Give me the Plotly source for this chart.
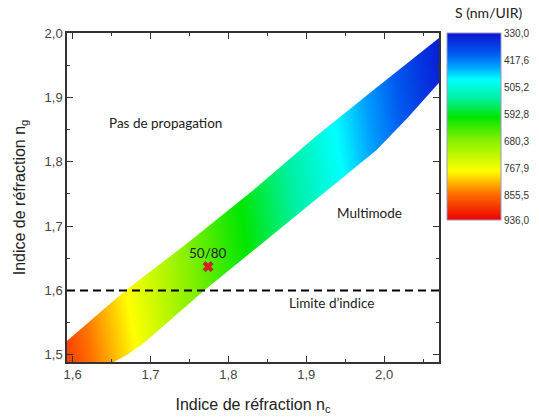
import plotly.graph_objects as go

# ---- data ----
nc_grid = [1.55, 1.60, 1.65, 1.70, 1.75, 1.80, 1.85, 1.90, 1.95, 2.00, 2.05, 2.10]
ng_rows = [1.48, 2.01]
S_bottom = [940, 880, 820, 760, 695, 645, 600, 560, 515, 465, 420, 375]
S_top = [860, 780, 730, 680, 630, 585, 540, 495, 450, 400, 350, 315]

upper_nc = [1.52, 1.593, 1.666, 1.750, 1.833, 1.913, 1.990, 2.071, 2.12, 2.12, 1.52]
upper_ng = [1.45, 1.522, 1.598, 1.676, 1.757, 1.840, 1.915, 1.992, 2.04, 2.10, 2.10]
lower_nc = [1.64, 1.653, 1.670, 1.690, 1.769, 1.840, 1.925, 1.990, 2.030, 2.071, 2.12, 2.12, 1.64]
lower_ng = [1.47, 1.489, 1.500, 1.517, 1.600, 1.670, 1.754, 1.818, 1.868, 1.924, 1.99, 1.40, 1.40]

point_nc = [1.774]
point_ng = [1.637]
point_label = "50/80"
limit_ng = 1.6

cb_vals = [330.0, 417.6, 505.2, 592.8, 680.3, 767.9, 855.5, 936.0]
cb_text = ["330,0", "417,6", "505,2", "592,8", "680,3", "767,9", "855,5", "936,0"]

colorscale = [
    [0.0, 'rgb(235,0,0)'],
    [0.14, 'rgb(255,110,0)'],
    [0.26, 'rgb(255,255,0)'],
    [0.43, 'rgb(130,240,0)'],
    [0.55, 'rgb(0,230,0)'],
    [0.65, 'rgb(0,240,160)'],
    [0.75, 'rgb(0,255,255)'],
    [0.82, 'rgb(0,160,255)'],
    [0.89, 'rgb(0,90,240)'],
    [1.0, 'rgb(10,20,210)'],
]

z = [[-v for v in S_bottom], [-v for v in S_top]]

fig = go.Figure()
fig.add_trace(go.Heatmap(
    x=nc_grid, y=ng_rows, z=z, zsmooth='best',
    zmin=-max(cb_vals), zmax=-min(cb_vals), colorscale=colorscale,
    colorbar=dict(
        x=1.021, xanchor='left', xpad=0, y=1, yanchor='top', ypad=0,
        len=0.568, lenmode='fraction', thickness=54,
        tickvals=[-v for v in cb_vals], ticktext=cb_text, ticks='',
        tickfont=dict(family='Liberation Sans, Arial', size=10, color='#333'),
        outlinewidth=1, outlinecolor='#9999bb',
    ),
    hoverinfo='skip',
))
for xs, ys in [(upper_nc, upper_ng), (lower_nc, lower_ng)]:
    fig.add_trace(go.Scatter(x=xs, y=ys, mode='lines', fill='toself',
                             fillcolor='white', line=dict(width=0, color='white'),
                             showlegend=False, hoverinfo='skip'))

fig.add_trace(go.Scatter(x=point_nc, y=point_ng, mode='markers',
                         marker=dict(symbol='x', size=9, color='rgb(220,30,40)',
                                     line=dict(width=0.5, color='rgb(150,20,20)')),
                         showlegend=False))

fig.add_shape(type='line', xref='paper', x0=0, x1=1, yref='y', y0=limit_ng, y1=limit_ng,
              line=dict(color='black', width=2, dash='8px,5px'), layer='above')

afont = dict(family='Lato, Open Sans', size=13.5, color='#222')
fig.add_annotation(x=point_nc[0], y=point_ng[0], text=point_label, showarrow=False,
                   yshift=14, font=afont)
fig.add_annotation(x=1.719, y=1.860, text="Pas de propagation", showarrow=False, font=afont)
fig.add_annotation(x=1.981, y=1.720, text="Multimode", showarrow=False, font=afont)
fig.add_annotation(x=1.933, y=1.580, text="Limite d\u2019indice", showarrow=False, font=afont)
fig.add_annotation(x=1.037, y=1.03, xref='paper', yref='paper', xanchor='left',
                   yanchor='bottom', text="S (nm/UIR)", showarrow=False,
                   font=dict(family='Lato, Open Sans', size=14, color='#222'))

axis_common = dict(
    showgrid=False, zeroline=False, showline=True, linecolor='#333', linewidth=1.5,
    mirror='ticks', ticks='inside', ticklen=6, tickwidth=1.2, tickcolor='#333',
    tickfont=dict(family='Liberation Sans, Arial', size=13, color='#444'),
    tickformat='.1f', automargin=False,
)
fig.update_xaxes(range=[1.5928, 2.0705], dtick=0.1, tick0=1.6,
                 minor=dict(ticks='inside', ticklen=3, dtick=0.05, tick0=1.6, tickcolor='#333'),
                 title=dict(text="Indice de réfraction n<sub>c</sub>",
                            font=dict(family='Liberation Sans, Arial', size=16, color='#222'),
                            standoff=17),
                 **axis_common)
fig.update_yaxes(range=[1.4889, 2.0], dtick=0.1, tick0=1.5,
                 minor=dict(ticks='inside', ticklen=3, dtick=0.05, tick0=1.5, tickcolor='#333'),
                 title=dict(text="Indice de réfraction n<sub>g</sub>",
                            font=dict(family='Liberation Sans, Arial', size=16, color='#222'),
                            standoff=15),
                 **axis_common)

fig.update_layout(
    width=539, height=419, separators=', ',
    margin=dict(l=67, r=95, t=33, b=57),
    paper_bgcolor='white', plot_bgcolor='white', showlegend=False,
)
# remove the default page margin so the 539x419 figure fills the window exactly
fig.write_html("out.html", config={'displayModeBar': False},
               post_script="document.body.style.margin='0';")
